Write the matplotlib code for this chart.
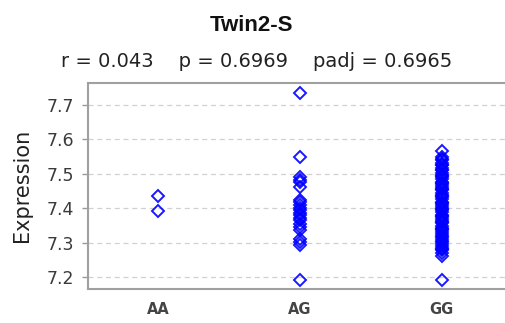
import matplotlib
matplotlib.use("Agg")
import matplotlib.pyplot as plt

categories = ["AA", "AG", "GG"]
aa_vals = [7.437, 7.391]
ag_vals = [7.734, 7.548, 7.490, 7.483, 7.476, 7.463, 7.425, 7.418, 7.410,
           7.402, 7.395, 7.388, 7.380, 7.372, 7.365, 7.356, 7.347, 7.338,
           7.310, 7.302, 7.295, 7.193]
gg_vals = [7.566, 7.548, 7.544, 7.540, 7.532, 7.527, 7.525, 7.518, 7.512,
           7.510, 7.503, 7.497, 7.494, 7.490, 7.484, 7.478, 7.474, 7.471,
           7.465, 7.458, 7.455, 7.452, 7.446, 7.440, 7.436, 7.433, 7.427,
           7.420, 7.417, 7.414, 7.408, 7.401, 7.398, 7.395, 7.389, 7.382,
           7.379, 7.376, 7.370, 7.363, 7.360, 7.357, 7.350, 7.344, 7.340,
           7.338, 7.331, 7.325, 7.321, 7.318, 7.312, 7.305, 7.302, 7.298,
           7.292, 7.285, 7.282, 7.278, 7.270, 7.262, 7.193]
series = [aa_vals, ag_vals, gg_vals]
yticks = [7.2, 7.3, 7.4, 7.5, 7.6, 7.7]
title = "Twin2-S"
subtitle = "r = 0.043    p = 0.6969    padj = 0.6965"

plt.rcParams['font.family'] = ['DejaVu Sans']

W, H = 506, 323
fig = plt.figure(figsize=(W/100, H/100), dpi=100)
l, r, t, b = 88, 507, 83, 289
ax = fig.add_axes([l/W, 1-b/H, (r-l)/W, (b-t)/H])

for i, vals in enumerate(series):
    ax.plot([i]*len(vals), vals, linestyle='none', marker='D', ms=6.5,
            mfc='none', mec='#0000ff', mew=1.4, alpha=0.9)

ax.set_xlim(-0.495, 2.46)
ax.set_ylim(7.166, 7.764)
ax.set_yticks(yticks)
ax.set_yticklabels([f"{v:.1f}" for v in yticks], fontsize=12.5, color='#3a3a3a')
ax.set_xticks(range(len(categories)))
ax.set_xticklabels(categories, fontsize=10.5, color='#444444', fontweight='bold')
ax.tick_params(axis='x', length=0, pad=9)
ax.tick_params(axis='y', length=4, color='#999999', width=1, pad=6)
ax.grid(axis='y', linestyle=(0, (4, 3)), color='#d0d0d0', linewidth=0.9)
ax.set_axisbelow(True)
for s in ['left', 'bottom', 'top']:
    ax.spines[s].set_color('#a0a0a0')
    ax.spines[s].set_linewidth(1.5)
ax.spines['right'].set_visible(False)

fig.text(22/W, 1-185/H, "Expression", rotation=90, ha='center', va='center',
         fontsize=15, color='#222222')
fig.text(252/W, 1-31/H, title, ha='center', va='baseline', fontsize=16,
         fontweight='bold', color='#111111', family='Liberation Sans')
fig.text(257/W, 1-67/H, subtitle, ha='center', va='baseline', fontsize=14,
         color='#222222')

fig.savefig("out.png", dpi=100)
